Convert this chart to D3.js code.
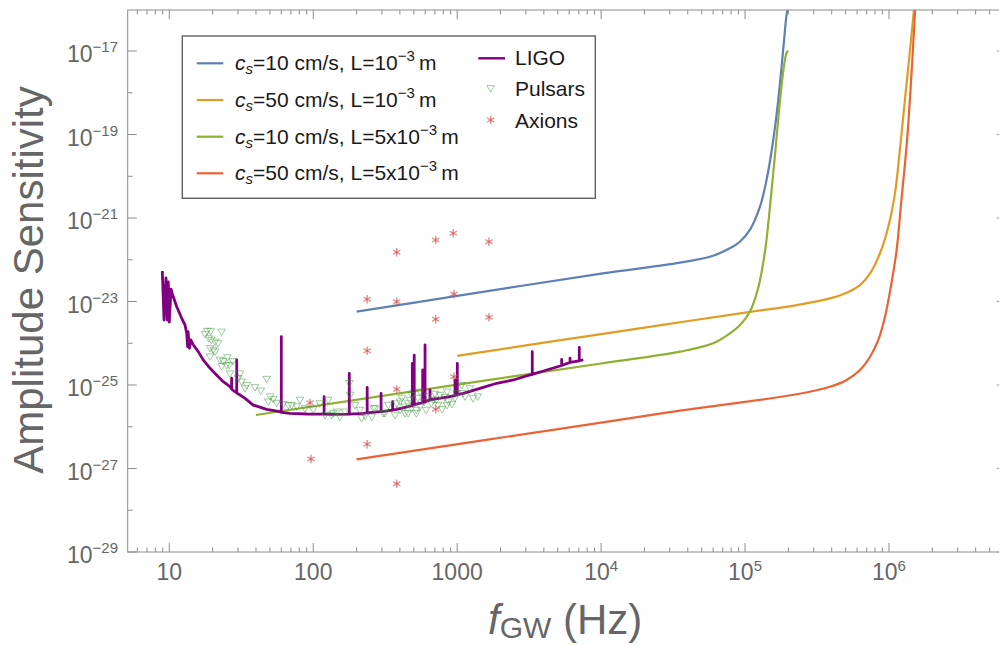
<!DOCTYPE html>
<html><head><meta charset="utf-8">
<script src="https://cdn.jsdelivr.net/npm/d3@7"></script>
<style>
body{margin:0;background:#fff}
svg{display:block}
text{font-family:"Liberation Sans",Arial,Helvetica,sans-serif}
</style>
</head><body>
<svg id="chart" width="999" height="646"></svg>
<script>
// ---------------- data ----------------
const xTickValues = [10, 100, 1000, 1e4, 1e5, 1e6];
const xTickLabels = [["10",""],["100",""],["1000",""],["10","4"],["10","5"],["10","6"]];
const yTickExps = [-29, -27, -25, -23, -21, -19, -17];
const yTickLabels = ["\u221229","\u221227","\u221225","\u221223","\u221221","\u221219","\u221217"];

// c_s=10 cm/s, L=1e-3 m
const blueF = [200, 1000, 1e4, 3.53e4, 6.0e4, 7.85e4, 9.2e4, 1.08e5, 1.27e5, 1.41e5, 1.57e5, 1.70e5, 1.84e5, 1.95e5, 2.0e5];
const blueH = [5.7e-24, 1.36e-23, 4.66e-23, 8.5e-23, 1.25e-22, 1.88e-22, 2.7e-22, 5.2e-22, 1.87e-21, 8.1e-21, 7.4e-20, 6.7e-19, 1.06e-17, 8.1e-17, 1.2e-16];
// c_s=50 cm/s, L=1e-3 m
const orangeF = [1000, 1e4, 3.53e4, 1.03e5, 2.29e5, 3.89e5, 5.08e5, 6.29e5, 7.39e5, 8.66e5, 9.89e5, 1.10e6, 1.19e6, 1.29e6, 1.40e6, 1.49e6];
const orangeH = [5.0e-25, 1.66e-24, 3.18e-24, 5.5e-24, 8.2e-24, 1.19e-23, 1.63e-23, 2.48e-23, 4.73e-23, 1.43e-22, 6.2e-22, 3.9e-21, 4.3e-20, 6.7e-19, 1.06e-17, 9.6e-17];
// c_s=10 cm/s, L=5e-3 m
const greenF = [40, 1000, 1e4, 3.53e4, 6.0e4, 7.85e4, 9.2e4, 1.08e5, 1.24e5, 1.38e5, 1.49e5, 1.61e5, 1.75e5, 1.86e5, 1.95e5, 2.0e5];
const greenH = [1.91e-26, 1.02e-25, 3.27e-25, 6.3e-25, 1.0e-24, 1.73e-24, 2.7e-24, 5.7e-24, 2.26e-23, 1.71e-22, 1.87e-21, 2.9e-20, 6.7e-19, 4.2e-18, 9.3e-18, 1.0e-17];
// c_s=50 cm/s, L=5e-3 m
const redF = [200, 1e4, 3.53e4, 1.03e5, 2.29e5, 3.89e5, 5.08e5, 6.29e5, 7.39e5, 8.43e5, 9.38e5, 1.04e6, 1.13e6, 1.22e6, 1.33e6, 1.42e6, 1.52e6];
const redH = [1.66e-27, 1.26e-26, 2.43e-26, 3.98e-26, 6.0e-26, 9.1e-26, 1.32e-25, 2.29e-25, 4.76e-25, 1.2e-24, 4.3e-24, 2.73e-23, 1.71e-22, 2.7e-21, 6.2e-20, 1.68e-18, 9.6e-17];

// LIGO noise curve [f (Hz), h]
const ligo = [
 [8.94,5.4e-23],[9.19,3.6e-24],[9.48,3.66e-23],[9.68,3.6e-24],[9.84,2.93e-23],[10.0,3.23e-24],
 [10.28,1.99e-23],[10.56,1.43e-23],[11.26,7.5e-24],[12.2,3.96e-24],[12.85,2.74e-24],[13.2,1.76e-24],
 [13.4,8.3e-25],[13.5,1.89e-24],[13.8,7.6e-25],[14.1,1.2e-24],[14.7,9.1e-25],[15.9,6.3e-25],
 [17.2,4.0e-25],[19.2,2.51e-25],[21.3,1.74e-25],[23.7,1.2e-25],[26.4,9.1e-26],
 [27.1,8.0e-26],[27.1,1.45e-25],[27.1,8.0e-26],[28.6,6.9e-26],
 [29.4,6.6e-26],[29.4,4.0e-25],[29.4,6.4e-26],[31.0,5.75e-26],[33.6,4.8e-26],[38.3,3.3e-26],
 [47.5,2.62e-26],[58.7,2.29e-26],[60,2.25e-26],[60,1.44e-24],[60,2.2e-26],[68.9,2.1e-26],[90,2.02e-26],
 [119,2.0e-26],[119,5.25e-26],[119,2.0e-26],[131,1.99e-26],
 [178,2.0e-26],[178,1.9e-25],[178,2.0e-26],[223,2.1e-26],
 [237,2.15e-26],[237,8.8e-26],[237,2.15e-26],[291,2.29e-26],
 [296,2.3e-26],[296,6.3e-26],[296,2.3e-26],[356,2.5e-26],[356,4.0e-26],[356,2.55e-26],[380,2.62e-26],
 [470,3.1e-26],[488,3.2e-26],[488,3.3e-25],[488,3.2e-26],[495,3.3e-26],
 [503,3.35e-26],[503,5.2e-25],[503,3.4e-26],[576,3.8e-26],[576,2.29e-25],[576,3.85e-26],
 [598,3.9e-26],[598,9.1e-25],[598,3.95e-26],[647,4.4e-26],[647,7.6e-26],[647,4.4e-26],[845,5.1e-26],
 [966,5.6e-26],[966,1.32e-25],[966,5.7e-26],[1002,5.8e-26],[1002,3.3e-25],[1002,5.9e-26],
 [1103,6.3e-26],[1439,8.3e-26],[1882,1.1e-25],[2455,1.32e-25],[3206,1.74e-25],
 [3325,1.78e-25],[3325,6.3e-25],[3325,1.8e-25],[4190,2.29e-25],
 [5320,2.93e-25],[5320,4.1e-25],[5320,2.95e-25],[6080,3.46e-25],[6080,4.4e-25],[6080,3.5e-25],
 [7050,3.8e-25],[7050,8.0e-25],[7050,3.85e-25],[7520,4.0e-25]
];

// Pulsar upper limits [f, h]
const pulsars = [
 [17.7,1.66e-24],[18.3,1.96e-24],[19.4,1.96e-24],[23.1,1.88e-24],[18.8,1.31e-24],[19.6,1.2e-24],
 [20.8,1.09e-24],[21.8,1.0e-24],[19.2,7.6e-25],[20.2,6.9e-25],[20.8,6.3e-25],[19.2,4.8e-25],
 [22.5,4.0e-25],[23.7,3.7e-25],[25.3,4.6e-25],[27.6,3.7e-25],[23.1,2.8e-25],[25.0,3.0e-25],
 [26.1,3.0e-25],[26.4,1.88e-25],[31.0,1.88e-25],[30.1,1.45e-25],[31.8,1.2e-25],[34.5,1.0e-25],
 [33.6,8.3e-26],[39.4,8.8e-26],[47.5,1.39e-25],[43.2,7.3e-26],[50.1,5.3e-26],[52.8,4.6e-26],
 [48.7,4.0e-26],[55.7,3.7e-26],[61.9,3.5e-26],[67.1,3.3e-26],[70.7,3.3e-26],[80.9,4.4e-26],
 [76.8,3.05e-26],[87.6,2.75e-26],[100,2.6e-26],[111,3.6e-26],[127,4.4e-26],[146,2.29e-26],
 [121,1.91e-26],[134,1.91e-26],[138,2.1e-26],[153,1.74e-26],[166,2.29e-26],[178,1.1e-25],
 [180,5.75e-26],[217,1.6e-26],[255,1.74e-26],[262,2.75e-26],[306,2.1e-26],[332,3.3e-26],
 [370,1.91e-26],[380,3.6e-26],[401,2.52e-26],[434,2.1e-26],[456,3.6e-26],[481,2.75e-26],
 [520,2.1e-26],[552,3.05e-26],[608,2.52e-26],[660,3.6e-26],[719,4.4e-26],[760,5.75e-26],
 [823,5.1e-26],[870,4.0e-26],[1075,1.0e-25],[1227,8.3e-26],[1290,4.8e-26],[990,6.3e-26],
 [1133,5.3e-26],[211,2.52e-26],[269,2.75e-26],[315,2.1e-26],[401,4.0e-26],[434,3.05e-26],
 [456,2.1e-26],[520,2.52e-26],[680,4.4e-26],[850,6.9e-26],[1097,6.3e-26],[1390,5.3e-26],
 [850,3.3e-26],[414,4.9e-26],[470,4.4e-26],[534,4.9e-26],[589,3.9e-26],[627,5.4e-26],
 [485,5.75e-26],[552,6.8e-26],[701,6.1e-26],[736,3.3e-26],[785,2.65e-26],[920,3.5e-26],
 [966,4.9e-26],[195,3.3e-26],[229,1.81e-26]
];

// Axion limits [f, h]
const axions = [
 [380,1.51e-22],[709,2.97e-22],[940,4.3e-22],[1663,2.7e-22],
 [237,1.13e-23],[380,9.9e-24],[950,1.51e-23],[709,3.75e-24],[1663,4.19e-24],
 [237,6.6e-25],[950,1.58e-25],[380,7.9e-26],[709,2.62e-26],
 [237,3.8e-27],[380,4.3e-28],[95,3.77e-26],[96.5,1.69e-27]
];

const seriesColors = ["#5E81B5","#E19C24","#8FB032","#EB6235"];

// ---------------- drawing ----------------
const svg = d3.select("#chart");
const L = 127.7, R = 1006, T = 10, B = 552;
const x = d3.scaleLog().domain([5.14, 6.5e6]).range([L, R]);
const y = d3.scaleLog().domain([1e-29, 9.6e-17]).range([B, T]);
const gray = "#8c8c8c", labGray = "#666";

svg.append("defs").append("clipPath").attr("id","clip")
  .append("rect").attr("x",L).attr("y",T).attr("width",R-L).attr("height",B-T);

const plot = svg.append("g").attr("clip-path","url(#clip)");

// curves
const curves = [[blueF,blueH],[orangeF,orangeH],[greenF,greenH],[redF,redH]];
const smooth = d3.line().x(d=>x(d[0])).y(d=>y(d[1])).curve(d3.curveCatmullRom.alpha(0.5));
curves.forEach((c,i)=>{
  const pts = c[0].map((f,j)=>[f,c[1][j]]);
  plot.append("path").attr("d",smooth(pts)).attr("fill","none")
    .attr("stroke",seriesColors[i]).attr("stroke-width",2.2);
});

// LIGO
const lin = d3.line().x(d=>x(d[0])).y(d=>y(d[1]));
plot.append("path").attr("d",lin(ligo)).attr("fill","none")
  .attr("stroke","#800080").attr("stroke-width",2.8).attr("stroke-linejoin","round");

// pulsars: open down triangles
const tri = "M-3.8,-2.7L3.8,-2.7L0,3.8Z";
plot.append("g").selectAll("path").data(pulsars).join("path")
  .attr("d",tri).attr("transform",d=>`translate(${x(d[0])},${y(d[1])})`)
  .attr("fill","none").attr("stroke","#3a943a").attr("stroke-opacity",0.55).attr("stroke-width",0.9);

// axions: asterisks
function star(g, cx, cy, r){
  const s = g.append("g").attr("transform",`translate(${cx},${cy})`);
  [90,30,150].forEach(a=>{
    const rad = a*Math.PI/180;
    s.append("line").attr("x1",-r*Math.cos(rad)).attr("y1",-r*Math.sin(rad))
      .attr("x2",r*Math.cos(rad)).attr("y2",r*Math.sin(rad))
      .attr("stroke","#d25050").attr("stroke-opacity",0.6).attr("stroke-width",1.5);
  });
}
const axG = plot.append("g");
axions.forEach(d=>star(axG, x(d[0]), y(d[1]), 4.2));

// frame
svg.append("rect").attr("x",L).attr("y",T).attr("width",R-L).attr("height",B-T)
  .attr("fill","none").attr("stroke",gray).attr("stroke-width",1);

// x ticks (bottom + top)
const tg = svg.append("g").attr("stroke",gray).attr("stroke-width",1);
const [d0,d1] = x.domain();
for(let e=0;e<=7;e++){
  for(let k=1;k<=9;k++){
    const v = k*Math.pow(10,e);
    if(v<d0||v>d1) continue;
    const len = k===1?9:4.5, px = x(v);
    tg.append("line").attr("x1",px).attr("x2",px).attr("y1",B).attr("y2",B-len);
    tg.append("line").attr("x1",px).attr("x2",px).attr("y1",T).attr("y2",T+len);
  }
}
// y ticks (left + right)
for(let e=-29;e<=-17;e++){
  const len = (e%2!==0)?9:5, py = y(Math.pow(10,e));
  tg.append("line").attr("x1",L).attr("x2",L+len).attr("y1",py).attr("y2",py);
  tg.append("line").attr("x1",R).attr("x2",R-len).attr("y1",py).attr("y2",py);
}

// x tick labels
xTickValues.forEach((v,i)=>{
  const t = svg.append("text").attr("x",x(v)).attr("y",580).attr("text-anchor","middle")
    .attr("fill",labGray).attr("font-size",23);
  t.append("tspan").text(xTickLabels[i][0]);
  if(xTickLabels[i][1]) t.append("tspan").attr("dy",-9).attr("font-size",15).text(xTickLabels[i][1]);
});
// y tick labels
yTickExps.forEach((e,i)=>{
  const t = svg.append("text").attr("x",118).attr("y",y(Math.pow(10,e))+11).attr("text-anchor","end")
    .attr("fill",labGray).attr("font-size",23);
  t.append("tspan").text("10");
  t.append("tspan").attr("dy",-10).attr("font-size",15).text(yTickLabels[i]);
});

// axis titles
svg.append("text").attr("transform","translate(43,280) rotate(-90)").attr("text-anchor","middle")
  .attr("fill",labGray).attr("font-size",42).text("Amplitude Sensitivity");
const xt = svg.append("text").attr("x",488).attr("y",634).attr("fill",labGray).attr("font-size",42);
xt.append("tspan").attr("font-style","italic").text("f");
xt.append("tspan").attr("font-size",30).attr("dy",4).text("GW");
xt.append("tspan").attr("dy",-4).text("\u00a0(Hz)");

// legend
const lg = svg.append("g");
lg.append("rect").attr("x",182.3).attr("y",36).attr("width",413).attr("height",162.3)
  .attr("fill","#fff").attr("stroke","#555").attr("stroke-width",1.3);
const rowsY = [63.3,100,136.7,173.3];
const lTexts = [["10","\u22123"],["50","\u22123"],["10","5x10","\u22123"],["50","5x10","\u22123"]];
rowsY.forEach((ry,i)=>{
  lg.append("line").attr("x1",196.7).attr("x2",223.3).attr("y1",ry).attr("y2",ry)
    .attr("stroke",seriesColors[i]).attr("stroke-width",2.2);
  const t = lg.append("text").attr("x",235).attr("y",ry+7).attr("font-size",21).attr("fill","#1a1a1a");
  const parts = lTexts[i];
  t.append("tspan").attr("font-style","italic").text("c");
  t.append("tspan").attr("font-style","italic").attr("font-size",15).attr("dy",4).text("s");
  t.append("tspan").attr("dy",-4).text("="+parts[0]+" cm/s, L="+(parts.length===3?parts[1]:"10"));
  t.append("tspan").attr("dy",-9).attr("font-size",15).text(parts[parts.length-1]);
  t.append("tspan").attr("dy",9).text("\u2009m");
});
// right column
lg.append("line").attr("x1",478.3).attr("x2",505).attr("y1",58.3).attr("y2",58.3)
  .attr("stroke","#800080").attr("stroke-width",2.4);
lg.append("text").attr("x",515).attr("y",65).attr("font-size",21).attr("fill","#1a1a1a").text("LIGO");
lg.append("path").attr("d",tri).attr("transform","translate(490.7,88.3)")
  .attr("fill","none").attr("stroke","#3a943a").attr("stroke-opacity",0.55).attr("stroke-width",0.9);
lg.append("text").attr("x",515).attr("y",96).attr("font-size",21).attr("fill","#1a1a1a").text("Pulsars");
star(lg, 490.7, 120, 4.2);
lg.append("text").attr("x",515).attr("y",128).attr("font-size",21).attr("fill","#1a1a1a").text("Axions");
</script>
</body></html>
